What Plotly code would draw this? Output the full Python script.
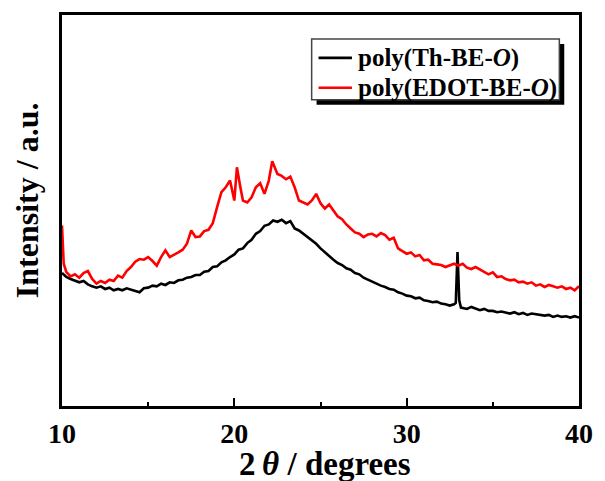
import plotly.graph_objects as go

# ---- data (intensity in arbitrary units) ----
theta_th = [10.00, 10.25, 10.50, 10.75, 11.00, 11.25, 11.50, 11.75, 12.00, 12.25,
            12.50, 12.75, 13.00, 13.25, 13.50, 13.75, 14.00, 14.25, 14.50, 14.75,
            15.00, 15.25, 15.50, 15.75, 16.00, 16.25, 16.50, 16.75, 17.00, 17.25,
            17.50, 17.75, 18.00, 18.25, 18.50, 18.75, 19.00, 19.25, 19.50, 19.75,
            20.00, 20.25, 20.50, 20.75, 21.00, 21.25, 21.50, 21.75, 22.00, 22.25,
            22.50, 22.75, 23.00, 23.25, 23.50, 23.75, 24.00, 24.25, 24.50, 24.75,
            25.00, 25.25, 25.50, 25.75, 26.00, 26.25, 26.50, 26.75, 27.00, 27.25,
            27.50, 27.75, 28.00, 28.25, 28.50, 28.75, 29.00, 29.25, 29.50, 29.75,
            30.00, 30.25, 30.50, 30.75, 31.00, 31.25, 31.50, 31.75, 32.00, 32.25,
            32.50, 32.75, 32.85, 32.95, 33.05, 33.15, 33.50, 33.75, 34.00, 34.25,
            34.50, 34.75, 35.00, 35.25, 35.50, 35.75, 36.00, 36.25, 36.50, 36.75,
            37.00, 37.25, 37.50, 37.75, 38.00, 38.25, 38.50, 38.75, 39.00, 39.25,
            39.50, 39.75, 40.00]
int_th = [432, 420, 414, 410, 404, 408, 398, 392, 388, 392,
          384, 388, 380, 384, 380, 386, 382, 378, 374, 386,
          388, 394, 392, 400, 396, 404, 402, 410, 412, 418,
          420, 426, 426, 436, 438, 450, 452, 464, 470, 480,
          488, 502, 506, 522, 532, 550, 558, 574, 578, 590,
          586, 592, 582, 588, 566, 560, 550, 542, 530, 520,
          506, 494, 482, 472, 462, 456, 446, 442, 432, 428,
          418, 412, 404, 400, 394, 390, 384, 382, 374, 370,
          364, 362, 356, 358, 350, 348, 344, 346, 340, 338,
          334, 338, 342, 495, 350, 328, 324, 330, 324, 320,
          324, 318, 318, 314, 316, 312, 310, 314, 308, 312,
          306, 310, 308, 304, 304, 306, 300, 304, 300, 302,
          298, 302, 298]

theta_edot = [10.00, 10.05, 10.10, 10.25, 10.50, 10.75, 11.00, 11.25, 11.50, 11.75,
              12.00, 12.25, 12.50, 12.75, 13.00, 13.25, 13.50, 13.75, 14.00, 14.25,
              14.50, 14.75, 15.00, 15.25, 15.50, 15.75, 16.00, 16.25, 16.50, 16.75,
              17.00, 17.25, 17.50, 17.75, 18.00, 18.25, 18.50, 18.75, 19.00, 19.25,
              19.50, 19.75, 20.00, 20.15, 20.35, 20.50, 20.75, 21.00, 21.25, 21.50,
              21.75, 22.00, 22.20, 22.50, 22.75, 23.00, 23.25, 23.50, 23.75, 24.00,
              24.25, 24.50, 24.75, 25.00, 25.25, 25.50, 25.75, 26.00, 26.25, 26.50,
              26.75, 27.00, 27.25, 27.50, 27.75, 28.00, 28.25, 28.50, 28.75, 29.00,
              29.25, 29.50, 29.75, 30.00, 30.25, 30.50, 30.75, 31.00, 31.25, 31.50,
              31.75, 32.00, 32.25, 32.50, 32.75, 33.00, 33.25, 33.50, 33.75, 34.00,
              34.25, 34.50, 34.75, 35.00, 35.25, 35.50, 35.75, 36.00, 36.25, 36.50,
              36.75, 37.00, 37.25, 37.50, 37.75, 38.00, 38.25, 38.50, 38.75, 39.00,
              39.25, 39.50, 39.75, 40.00]
int_edot = [575, 520, 460, 435, 422, 428, 418, 432, 438, 414,
            400, 408, 402, 412, 408, 424, 418, 438, 450, 466,
            474, 472, 480, 468, 454, 480, 500, 480, 486, 494,
            502, 520, 560, 540, 542, 558, 562, 582, 630, 675,
            690, 710, 650, 750, 690, 650, 644, 660, 690, 702,
            670, 710, 768, 730, 724, 714, 722, 690, 650, 645,
            638, 650, 670, 642, 626, 638, 620, 602, 594, 578,
            566, 554, 550, 540, 548, 550, 542, 552, 546, 532,
            538, 506, 498, 490, 494, 482, 486, 470, 472, 460,
            458, 456, 450, 454, 460, 454, 460, 448, 444, 450,
            442, 434, 428, 434, 420, 422, 414, 410, 412, 404,
            406, 400, 404, 394, 398, 390, 396, 392, 388, 392,
            384, 388, 380, 392]

names = ["poly(Th-BE-<i>O</i>)", "poly(EDOT-BE-<i>O</i>)"]
colors = ["#000000", "#ff0000"]
x_ticks = [10, 20, 30, 40]

FONT = "Liberation Serif, Times New Roman, serif"

fig = go.Figure()
fig.add_trace(go.Scatter(x=theta_th, y=int_th, mode="lines", name=names[0],
                         line=dict(color=colors[0], width=2.6), showlegend=False))
fig.add_trace(go.Scatter(x=theta_edot, y=int_edot, mode="lines", name=names[1],
                         line=dict(color=colors[1], width=2.6), showlegend=False))

W, H = 605, 481
L, R, T, B = 62, 17, 14, 75
pw, ph = W - L - R, H - T - B

def px2paper(px, py):
    return (px - L) / pw, (H - B - py) / ph

# ---- boxed legend with drop shadow (drawn in pixel-derived paper coords) ----
bx0, by0 = px2paper(316, 38)
bx1, by1 = px2paper(568, 99)
shx0, shy0 = px2paper(321, 43)
shx1, shy1 = px2paper(573, 104)
fig.add_shape(type="rect", xref="paper", yref="paper", x0=shx0, x1=shx1, y0=shy1, y1=shy0,
              fillcolor="black", line=dict(width=0), layer="above")
fig.add_shape(type="rect", xref="paper", yref="paper", x0=bx0, x1=bx1, y0=by1, y1=by0,
              fillcolor="white", line=dict(color="#444444", width=1.5), layer="above")
row_y = [57, 87]
for name, col, ry in zip(names, colors, row_y):
    lx0, lyy = px2paper(323, ry)
    lx1, _ = px2paper(357, ry)
    fig.add_shape(type="line", xref="paper", yref="paper", x0=lx0, x1=lx1, y0=lyy, y1=lyy,
                  line=dict(color=col, width=2.6), layer="above")
    tx0, _ = px2paper(361, ry)
    fig.add_annotation(x=tx0, y=lyy, xref="paper", yref="paper", text=name,
                       showarrow=False, xanchor="left", yanchor="middle",
                       font=dict(family=FONT, size=25, color="black", weight="bold"))

fig.update_layout(
    width=W, height=H,
    margin=dict(l=L, r=R, t=T, b=B),
    plot_bgcolor="white", paper_bgcolor="white",
    showlegend=False,
    font=dict(family=FONT, color="black"),
)
fig.update_xaxes(range=[10, 40], tickvals=x_ticks, ticks="inside", ticklen=8, tickwidth=2,
                 tickcolor="black",
                 minor=dict(dtick=5, tick0=10, ticks="inside", ticklen=4, tickwidth=2,
                            tickcolor="black", showgrid=False),
                 showline=True, linewidth=3, linecolor="black", mirror=True,
                 showgrid=False, zeroline=False,
                 tickfont=dict(family=FONT, size=28, color="black", weight="bold"),
                 ticklabelstandoff=0)
fig.update_yaxes(range=[32, 1208], showticklabels=False, ticks="",
                 showline=True, linewidth=3, linecolor="black", mirror=True,
                 showgrid=False, zeroline=False)

ax, ay = px2paper(26, 200)
fig.add_annotation(x=ax, y=ay, xref="paper", yref="paper", text="Intensity / a.u.",
                   textangle=-90, showarrow=False, xanchor="center", yanchor="middle",
                   font=dict(family=FONT, size=32, color="black", weight="bold"))
tx, ty = px2paper(330, 464)
fig.add_annotation(x=tx, y=ty, xref="paper", yref="paper", text="2\u2009<i>θ</i> / degrees",
                   showarrow=False, xanchor="center", yanchor="middle",
                   font=dict(family=FONT, size=33, color="black", weight="bold"))

fig.write_html("out.html")
